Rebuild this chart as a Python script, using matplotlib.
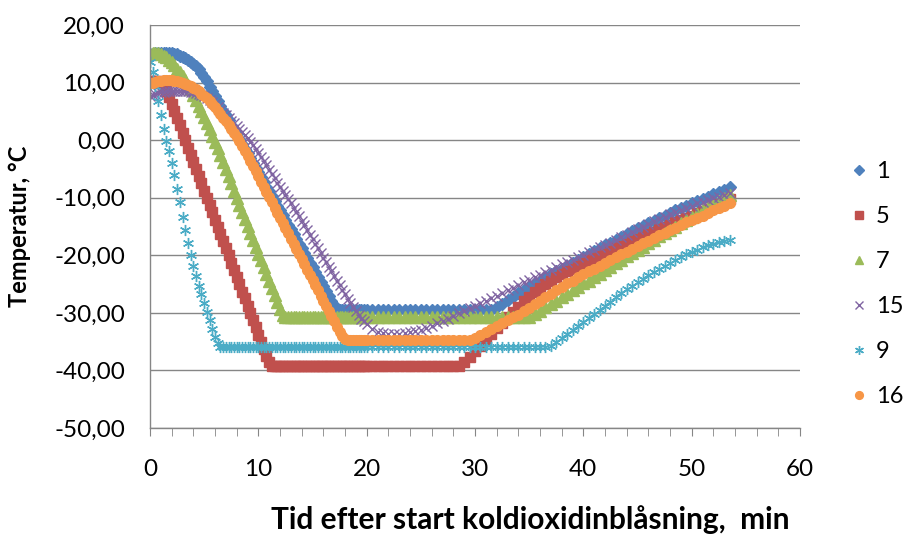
import numpy as np
import matplotlib
matplotlib.use("Agg")
import matplotlib.pyplot as plt
from matplotlib.ticker import MultipleLocator, FuncFormatter

plt.rcParams['font.family'] = ['Lato', 'DejaVu Sans']

# sampling grid: every 15 s for the first 20 min, then every 30 s
time_min = np.concatenate([np.arange(0, 20.001, 0.25), np.arange(20.5, 53.501, 0.5)])

temp_1 = [
    15.0, 15.0, 15.1, 15.1, 15.2, 15.2, 15.2, 15.2, 15.1, 15.0,
    14.9, 14.7, 14.5, 14.2, 13.9, 13.6, 13.2, 12.8, 12.3, 11.7,
    11.0, 10.2, 9.3, 8.5, 7.6, 6.8, 5.9, 5.1, 4.3, 3.5,
    2.6, 1.8, 1.0, 0.2, -0.7, -1.5, -2.3, -3.1, -4.0, -4.8,
    -5.6, -6.4, -7.3, -8.1, -8.9, -9.7, -10.6, -11.4, -12.2, -13.0,
    -13.9, -14.7, -15.5, -16.3, -17.2, -18.0, -18.8, -19.6, -20.5, -21.3,
    -22.1, -22.9, -23.8, -24.6, -25.4, -26.2, -27.1, -27.9, -28.7, -29.3,
    -29.5, -29.5, -29.5, -29.5, -29.5, -29.5, -29.5, -29.5, -29.5, -29.5,
    -29.5,
    -29.5, -29.5, -29.5, -29.5, -29.5, -29.5, -29.5, -29.5, -29.5, -29.5,
    -29.5, -29.5, -29.5, -29.5, -29.5, -29.5, -29.5, -29.5, -29.5, -29.5,
    -29.5, -29.5, -29.5,
    -29.0, -28.4, -27.8, -27.2, -26.6, -26.0, -25.5, -24.9, -24.4, -23.8,
    -23.3, -22.8, -22.3, -21.8, -21.3, -20.8, -20.3, -19.8, -19.3, -18.8,
    -18.3, -17.8, -17.3, -16.8, -16.3, -15.8, -15.3, -14.9, -14.4, -14.0,
    -13.5, -13.1, -12.6, -12.2, -11.8, -11.4, -11.0, -10.6, -10.2, -9.8,
    -9.4, -9.0, -8.6, -8.2,
]

temp_5 = [
    10.2, 10.3, 10.3, 10.2, 9.9, 9.3, 8.5, 7.5, 6.3, 5.1,
    3.8, 2.6, 1.3, 0.0, -1.3, -2.5, -3.8, -5.0, -6.3, -7.5,
    -8.8, -10.0, -11.3, -12.5, -13.8, -15.0, -16.3, -17.5, -18.8, -20.0,
    -21.3, -22.5, -23.8, -25.0, -26.3, -27.5, -28.8, -30.0, -31.3, -32.5,
    -33.8, -35.0, -36.3, -37.5, -38.6, -39.2, -39.3, -39.3, -39.3, -39.3,
    -39.3, -39.3, -39.3, -39.3, -39.3, -39.3, -39.3, -39.3, -39.3, -39.3,
    -39.3, -39.3, -39.3, -39.3, -39.3, -39.3, -39.3, -39.3, -39.3, -39.3,
    -39.3, -39.3, -39.3, -39.3, -39.3, -39.3, -39.3, -39.3, -39.3, -39.3,
    -39.3,
    -39.3, -39.3, -39.3, -39.3, -39.3, -39.3, -39.3, -39.3, -39.3, -39.3,
    -39.3, -39.3, -39.3, -39.3, -39.3, -39.3, -39.3,
    -38.6, -37.7, -36.7, -35.7, -34.7, -33.7, -32.7, -31.7, -30.7, -29.8,
    -28.9, -28.0, -27.2, -26.4, -25.7, -25.0, -24.4, -23.8, -23.3, -22.8,
    -22.3, -21.8, -21.3, -20.9, -20.5, -20.1, -19.7, -19.3, -18.8, -18.4,
    -18.0, -17.6, -17.2, -16.8, -16.3, -15.9, -15.5, -15.1, -14.7, -14.3,
    -13.9, -13.5, -13.1, -12.7, -12.3, -11.9, -11.5, -11.1, -10.7, -10.3,
]

temp_7 = [
    15.0, 15.1, 15.2, 15.1, 15.0, 14.7, 14.4, 14.0, 13.5, 13.0,
    12.4, 11.8, 11.1, 10.4, 9.6, 8.8, 7.9, 7.0, 6.0, 5.0,
    4.0, 3.0, 1.9, 0.8, -0.3, -1.4, -2.6, -3.8, -5.0, -6.3,
    -7.5, -8.8, -10.0, -11.3, -12.5, -13.7, -14.9, -16.1, -17.3, -18.5,
    -19.7, -20.9, -22.1, -23.3, -24.5, -25.7, -26.9, -28.1, -29.3, -30.3,
    -30.7, -30.7, -30.7, -30.7, -30.7, -30.7, -30.7, -30.7, -30.7, -30.7,
    -30.7, -30.7, -30.7, -30.7, -30.7, -30.7, -30.7, -30.7, -30.7, -30.7,
    -30.7, -30.7, -30.7, -30.7, -30.7, -30.7, -30.7, -30.7, -30.7, -30.7,
    -30.7,
    -30.7, -30.7, -30.7, -30.7, -30.7, -30.7, -30.7, -30.7, -30.7, -30.7,
    -30.7, -30.7, -30.7, -30.7, -30.7, -30.7, -30.7, -30.7, -30.7, -30.7,
    -30.7, -30.7, -30.7, -30.7, -30.7, -30.7, -30.7, -30.7, -30.7, -30.7,
    -30.2, -29.6, -29.0, -28.5, -27.9, -27.3, -26.7, -26.1, -25.5, -24.9,
    -24.4, -23.8, -23.2, -22.6, -22.0, -21.4, -20.8, -20.2, -19.6, -19.0,
    -18.5, -17.9, -17.3, -16.7, -16.1, -15.6, -15.0, -14.4, -13.9, -13.3,
    -12.8, -12.2, -11.7, -11.1, -10.6, -10.1, -9.6,
]

temp_15 = [
    7.6, 7.8, 8.0, 8.2, 8.3, 8.4, 8.5, 8.6, 8.6, 8.6,
    8.6, 8.6, 8.6, 8.5, 8.5, 8.4, 8.3, 8.2, 8.0, 7.8,
    7.6, 7.3, 7.0, 6.6, 6.2, 5.8, 5.3, 4.8, 4.3, 3.8,
    3.3, 2.9, 2.4, 1.9, 1.4, 0.9, 0.3, -0.3, -0.9, -1.5,
    -2.2, -2.9, -3.6, -4.3, -5.1, -5.8, -6.6, -7.4, -8.2, -8.9,
    -9.6, -10.3, -11.0, -11.7, -12.5, -13.2, -14.0, -14.8, -15.6, -16.4,
    -17.2, -18.0, -18.8, -19.6, -20.4, -21.2, -22.0, -22.8, -23.6, -24.4,
    -25.2, -26.0, -26.8, -27.6, -28.3, -29.0, -29.7, -30.4, -31.0, -31.5,
    -32.0,
    -32.8, -33.3, -33.5, -33.6, -33.6, -33.6, -33.5, -33.4, -33.2, -32.9,
    -32.6, -32.2, -31.8, -31.4, -31.0, -30.6, -30.1, -29.7, -29.2, -28.8,
    -28.3, -27.9, -27.4, -27.0, -26.5, -26.1, -25.6, -25.2, -24.7, -24.3,
    -23.8, -23.4, -22.9, -22.5, -22.0, -21.6, -21.2, -20.8, -20.3, -19.9,
    -19.4, -19.0, -18.6, -18.2, -17.8, -17.3, -16.9, -16.4, -16.0, -15.5,
    -15.1, -14.6, -14.1, -13.7, -13.3, -12.9, -12.5, -12.1, -11.7, -11.4,
    -11.0, -10.7, -10.4, -10.1, -9.8, -9.5, -9.2,
]

temp_9 = [
    13.6, 11.8, 9.4, 6.8, 4.3, 1.9, -0.1, -1.9, -3.9, -6.1,
    -8.4, -10.8, -13.3, -15.6, -17.8, -19.9, -21.8, -23.6, -25.3, -26.8,
    -28.3, -29.8, -31.3, -32.8, -34.2, -35.3, -36.0, -36.0, -36.0, -36.0,
    -36.0, -36.0, -36.0, -36.0, -36.0, -36.0, -36.0, -36.0, -36.0, -36.0,
    -36.0, -36.0, -36.0, -36.0, -36.0, -36.0, -36.0, -36.0, -36.0, -36.0,
    -36.0, -36.0, -36.0, -36.0, -36.0, -36.0, -36.0, -36.0, -36.0, -36.0,
    -36.0, -36.0, -36.0, -36.0, -36.0, -36.0, -36.0, -36.0, -36.0, -36.0,
    -36.0, -36.0, -36.0, -36.0, -36.0, -36.0, -36.0, -36.0, -36.0, -36.0,
    -36.0,
    -36.0, -36.0, -36.0, -36.0, -36.0, -36.0, -36.0, -36.0, -36.0, -36.0,
    -36.0, -36.0, -36.0, -36.0, -36.0, -36.0, -36.0, -36.0, -36.0, -36.0,
    -36.0, -36.0, -36.0, -36.0, -36.0, -36.0, -36.0, -36.0, -36.0, -36.0,
    -36.0, -36.0, -36.0,
    -35.7, -35.1, -34.4, -33.7, -33.0, -32.3, -31.6, -30.9, -30.2, -29.5,
    -28.8, -28.1, -27.3, -26.6, -25.9, -25.3, -24.7, -24.1, -23.5, -22.9,
    -22.3, -21.8, -21.3, -20.8, -20.3, -19.8, -19.4, -19.0, -18.6, -18.3,
    -18.0, -17.7, -17.5, -17.3,
]

temp_16 = [
    9.9, 10.0, 10.1, 10.2, 10.3, 10.4, 10.4, 10.4, 10.4, 10.3,
    10.2, 10.1, 9.9, 9.8, 9.6, 9.4, 9.1, 8.8, 8.5, 8.1,
    7.7, 7.3, 6.8, 6.3, 5.7, 5.1, 4.5, 3.9, 3.3, 2.7,
    2.0, 1.3, 0.6, -0.2, -1.0, -1.8, -2.7, -3.6, -4.5, -5.4,
    -6.3, -7.2, -8.1, -9.0, -9.9, -10.8, -11.7, -12.6, -13.5, -14.4,
    -15.3, -16.2, -17.1, -18.0, -18.9, -19.8, -20.7, -21.6, -22.5, -23.4,
    -24.3, -25.2, -26.1, -27.0, -27.9, -28.8, -29.7, -30.6, -31.5, -32.4,
    -33.3, -34.1, -34.6, -34.8, -34.8, -34.8, -34.8, -34.8, -34.8, -34.8,
    -34.8,
    -34.8, -34.8, -34.8, -34.8, -34.8, -34.8, -34.8, -34.8, -34.8, -34.8,
    -34.8, -34.8, -34.8, -34.8, -34.8, -34.8, -34.8, -34.8, -34.8,
    -34.3, -33.8, -33.3, -32.8, -32.3, -31.8, -31.3, -30.8, -30.3, -29.7,
    -29.1, -28.5, -27.9, -27.3, -26.7, -26.1, -25.5, -24.9, -24.4, -23.8,
    -23.3, -22.8, -22.3, -21.8, -21.3, -20.8, -20.3, -19.8, -19.4, -18.9,
    -18.4, -17.9, -17.5, -17.0, -16.5, -16.1, -15.6, -15.2, -14.8, -14.3,
    -13.9, -13.5, -13.1, -12.6, -12.2, -11.8, -11.4, -11.0,
]

series_labels = ['1', '5', '7', '15', '9', '16']
series_values = [temp_1, temp_5, temp_7, temp_15, temp_9, temp_16]
colors = ['#4F81BD', '#C0504D', '#9BBB59', '#8064A2', '#4BACC6', '#F79646']
markers = ['D', 's', '^', 'x', (6, 2, 0), 'o']
msizes = [6.5, 6.5, 8, 7, 8, 7]

for vals in series_values:
    assert len(vals) == len(time_min), len(vals)

fig = plt.figure(figsize=(9.07, 5.36), dpi=100)
ax = fig.add_axes([150 / 907, 1 - 428 / 536, 650 / 907, 403 / 536])

for lab, vals, c, m, ms in zip(series_labels, series_values, colors, markers, msizes):
    ax.plot(time_min, vals, linestyle='none', marker=m, markersize=ms,
            color=c, markeredgecolor=c, markeredgewidth=1.0, label=lab)

ax.set_xlim(0, 60)
ax.set_ylim(-50, 20)
ax.xaxis.set_major_locator(MultipleLocator(10))
ax.xaxis.set_minor_locator(MultipleLocator(2))
ax.yaxis.set_major_locator(MultipleLocator(10))
ax.yaxis.set_major_formatter(FuncFormatter(lambda v, p: '{:.2f}'.format(v).replace('.', ',')))

grid_c = '#868686'
ax.grid(axis='y', color=grid_c, linewidth=1.0)
ax.set_axisbelow(True)
for s in ['top', 'right']:
    ax.spines[s].set_visible(False)
for s in ['left', 'bottom']:
    ax.spines[s].set_color(grid_c)
    ax.spines[s].set_linewidth(1.0)

ax.tick_params(axis='x', which='both', direction='out', length=6, color=grid_c,
               labelsize=17.5, pad=16)
ax.tick_params(axis='y', length=0, labelsize=17.5, pad=18)

fig.text(20 / 907, 1 - 226 / 536, 'Temperatur, °C', rotation=90, ha='center',
         va='center', fontsize=17, fontweight='bold')
fig.text(530 / 907, 1 - 520 / 536, 'Tid efter start koldioxidinblåsning,  min',
         ha='center', va='center', fontsize=21.5, fontweight='bold')

fig.legend(loc='center left', bbox_to_anchor=(838 / 907, 1 - 284 / 536),
           frameon=False, fontsize=17, handlelength=0.8, handletextpad=0.3,
           labelspacing=1.02, borderpad=0, markerscale=0.8)

fig.savefig('out.png', dpi=100)
